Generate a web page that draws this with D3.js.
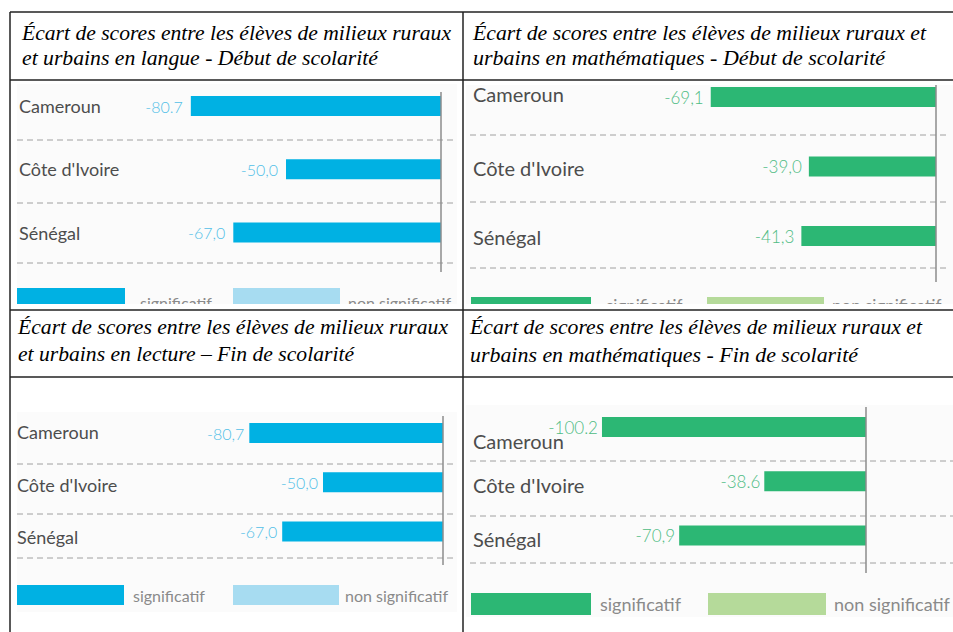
<!DOCTYPE html>
<html lang="fr">
<head>
  <meta charset="UTF-8" />
  <title>Écart de scores rural / urbain</title>
  <script src="https://d3js.org/d3.v7.min.js"></script>
  <style>
    body { margin: 0; background: #fff; }
    svg { display: block; }
    .title { font-family: "Liberation Serif", serif; font-style: italic; fill: #000; }
    .country { font-family: Lato, "Open Sans", sans-serif; fill: #4d4d4d; }
    .value { font-family: Lato, sans-serif; font-weight: 300; }
    .legend { font-family: Lato, sans-serif; fill: #8a8a8a; }
  </style>
</head>
<body>
  <div id="chart"></div>

  <script>
    // data
    const countries = ["Cameroun", "Côte d'Ivoire", "Sénégal"];
    const langueDebut = [-80.7, -50.0, -67.0];
    const mathDebut = [-69.1, -39.0, -41.3];
    const lectureFin = [-80.7, -50.0, -67.0];
    const mathFin = [-100.2, -38.6, -70.9];
    const langueDebutLabels = ["-80.7", "-50,0", "-67,0"];
    const mathDebutLabels = ["-69,1", "-39,0", "-41,3"];
    const lectureFinLabels = ["-80,7", "-50,0", "-67,0"];
    const mathFinLabels = ["-100.2", "-38.6", "-70,9"];
    const legendLabels = ["significatif", "non significatif"];
    const titles = [
      ["Écart de scores entre les élèves de milieux ruraux", "et urbains en langue - Début de scolarité"],
      ["Écart de scores entre les élèves de milieux ruraux et", "urbains en mathématiques - Début de scolarité"],
      ["Écart de scores entre les élèves de milieux ruraux", "et urbains en lecture – Fin de scolarité"],
      ["Écart de scores entre les élèves de milieux ruraux et", "urbains en mathématiques - Fin de scolarité"]
    ];

    const width = 953, height = 632;
    const blue = { dark: "#00b1e3", light: "#a7dcf1", text: "#52bfe7" };
    const green = { dark: "#2cb774", light: "#b5da9a", text: "#4fbc84" };

    // layout of each cell (positions only)
    const panels = [
      { values: langueDebut, labels: langueDebutLabels, title: titles[0], pal: blue,
        titleX: 22, titleY: [40, 65], titleW: [429, 356],
        clip: [17, 84, 440, 220], zero: 441, k: 3.1, rows: [106, 232.5], barH: 20,
        dashY: [140, 203, 263], dashX: [17, 455], zeroY: [92, 272],
        labelX: 19, labelDy: [0, 0, 0], font: 18, valueFont: 16, gap: 8,
        legY: 288, legH: 20, legRects: [[17, 125], [233, 340]], legText: [140, 348], legTextY: 302, legFont: 16 },
      { values: mathDebut, labels: mathDebutLabels, title: titles[1], pal: green,
        titleX: 473, titleY: [40, 65], titleW: [453, 412],
        clip: [466, 85, 487, 219], zero: 936, k: 3.26, rows: [97, 236], barH: 20,
        dashY: [135, 202, 268], dashX: [470, 950], zeroY: [85, 282],
        labelX: 473, labelDy: [-3, 1, 1], font: 20, valueFont: 17, gap: 7,
        legY: 297, legH: 20, legRects: [[471, 591], [707, 824]], legText: [606, 832], legTextY: 305, legFont: 17 },
      { values: lectureFin, labels: lectureFinLabels, title: titles[2], pal: blue,
        titleX: 18, titleY: [334, 361], titleW: [430, 336],
        clip: [17, 412, 440, 200], zero: 443, k: 2.4, rows: [433, 531.5], barH: 20,
        dashY: [464, 514, 558], dashX: [17, 455], zeroY: [416, 565],
        labelX: 17, labelDy: [-1, 3, 5], font: 18, valueFont: 16, gap: 5,
        legY: 585, legH: 20, legRects: [[17, 124], [233, 339]], legText: [133, 345], legTextY: 595, legFont: 16 },
      { values: mathFin, labels: mathFinLabels, title: titles[3], pal: green,
        titleX: 470, titleY: [334, 362], titleW: [452, 388],
        clip: [466, 405, 487, 212], zero: 866, k: 2.635, rows: [427, 535.5], barH: 20,
        dashY: [461, 516, 563], dashX: [470, 953], zeroY: [407, 573],
        labelX: 473, labelDy: [14, 4, 3], font: 20, valueFont: 17, gap: 4,
        legY: 593, legH: 22, legRects: [[471, 591], [708, 826]], legText: [600, 834], legTextY: 604, legFont: 18 }
    ];

    const svg = d3.select("#chart").append("svg")
      .attr("width", width)
      .attr("height", height);

    panels.forEach((p, i) => {
      const [cx, cy, cw, ch] = p.clip;
      const x = d3.scaleLinear().domain([-100, 0]).range([p.zero - 100 * p.k, p.zero]);
      const y = d3.scalePoint().domain(countries).range(p.rows);

      // titles
      svg.append("g").selectAll("text")
        .data(p.title)
        .join("text")
        .attr("class", "title")
        .attr("x", p.titleX)
        .attr("y", (d, j) => p.titleY[j])
        .attr("font-size", 22)
        .attr("textLength", (d, j) => p.titleW[j])
        .attr("lengthAdjust", "spacingAndGlyphs")
        .text(d => d);

      svg.append("clipPath").attr("id", "clip" + i)
        .append("rect").attr("x", cx).attr("y", cy).attr("width", cw).attr("height", ch);

      const g = svg.append("g").attr("clip-path", `url(#clip${i})`);
      g.append("rect")
        .attr("x", cx).attr("y", cy).attr("width", cw).attr("height", ch)
        .attr("fill", "#fbfbfb");

      // dashed separators
      g.selectAll("line.dash")
        .data(p.dashY)
        .join("line")
        .attr("class", "dash")
        .attr("x1", p.dashX[0]).attr("x2", p.dashX[1])
        .attr("y1", d => d).attr("y2", d => d)
        .attr("stroke", "#a0a0a0")
        .attr("stroke-dasharray", "6,4");

      // bars
      g.selectAll("rect.bar")
        .data(p.values)
        .join("rect")
        .attr("class", "bar")
        .attr("x", d => x(d))
        .attr("y", (d, j) => y(countries[j]) - p.barH / 2)
        .attr("width", d => x(0) - x(d))
        .attr("height", p.barH)
        .attr("fill", p.pal.dark);

      // zero line
      g.append("line")
        .attr("x1", x(0)).attr("x2", x(0))
        .attr("y1", p.zeroY[0]).attr("y2", p.zeroY[1])
        .attr("stroke", "#8c8c8c")
        .attr("stroke-width", 1.5);

      // country names
      g.selectAll("text.country")
        .data(countries)
        .join("text")
        .attr("class", "country")
        .attr("x", p.labelX)
        .attr("y", (d, j) => y(d) + p.labelDy[j])
        .attr("dominant-baseline", "central")
        .attr("font-size", p.font)
        .text(d => d);

      // value labels
      g.selectAll("text.value")
        .data(p.values)
        .join("text")
        .attr("class", "value")
        .attr("x", d => x(d) - p.gap)
        .attr("y", (d, j) => y(countries[j]))
        .attr("text-anchor", "end")
        .attr("dominant-baseline", "central")
        .attr("font-size", p.valueFont)
        .attr("fill", p.pal.text)
        .text((d, j) => p.labels[j]);

      // legend
      g.selectAll("rect.leg")
        .data(p.legRects)
        .join("rect")
        .attr("class", "leg")
        .attr("x", d => d[0])
        .attr("y", p.legY)
        .attr("width", d => d[1] - d[0])
        .attr("height", p.legH)
        .attr("fill", (d, j) => j === 0 ? p.pal.dark : p.pal.light);

      g.selectAll("text.legend")
        .data(legendLabels)
        .join("text")
        .attr("class", "legend")
        .attr("x", (d, j) => p.legText[j])
        .attr("y", p.legTextY)
        .attr("dominant-baseline", "central")
        .attr("font-size", p.legFont)
        .text(d => d);
    });

    // table rules
    const hRules = [12, 80, 310, 377];
    const vRules = [10, 463];
    svg.selectAll("line.h")
      .data(hRules)
      .join("line")
      .attr("class", "h")
      .attr("x1", 10).attr("x2", width)
      .attr("y1", d => d).attr("y2", d => d)
      .attr("stroke", "#222").attr("stroke-width", 1.5);
    svg.selectAll("line.v")
      .data(vRules)
      .join("line")
      .attr("class", "v")
      .attr("x1", d => d).attr("x2", d => d)
      .attr("y1", 12).attr("y2", height)
      .attr("stroke", "#222").attr("stroke-width", 1.5);
  </script>
</body>
</html>
